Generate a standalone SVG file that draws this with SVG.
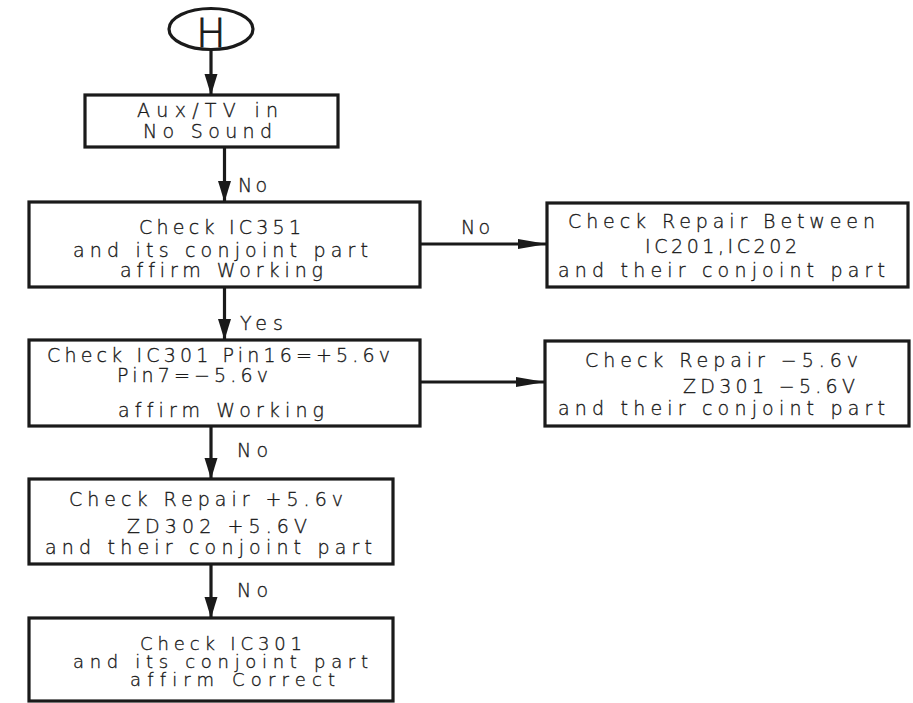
<svg xmlns="http://www.w3.org/2000/svg" width="913" height="703" viewBox="0 0 913 703">
<style>
.box{fill:#fff;stroke:#1a1a1a;stroke-width:3.2}
.ln{fill:none;stroke:#1a1a1a;stroke-width:3.2}
.t{font-family:"DejaVu Sans","Liberation Sans",Arial,sans-serif;font-size:19px;font-weight:200;fill:#1a1a1a;stroke:#1a1a1a;stroke-width:0.35;font-variant-ligatures:none;font-feature-settings:"liga" 0}
.s{font-size:18px}
.h{font-family:"DejaVu Sans","Liberation Sans",Arial,sans-serif;font-size:39px;font-weight:200;fill:#1a1a1a;stroke:#1a1a1a;stroke-width:0.9}
</style>
<defs>
<marker id="av" markerUnits="userSpaceOnUse" markerWidth="22" markerHeight="14" refX="21" refY="6.5" orient="auto"><path d="M0,0 L21,6.5 L0,13 z" fill="#1a1a1a"/></marker>
<marker id="ah" markerUnits="userSpaceOnUse" markerWidth="30" markerHeight="12" refX="29" refY="5" orient="auto"><path d="M0,0 L29,5 L0,10 z" fill="#1a1a1a"/></marker>
</defs>
<rect width="913" height="703" fill="#fff"/>
<g id="connectors">
<path class="ln" d="M211,50 V95" marker-end="url(#av)"/>
<path class="ln" d="M224.5,147 V202" marker-end="url(#av)"/>
<path class="ln" d="M420,244 H547" marker-end="url(#ah)"/>
<path class="ln" d="M224.5,287 V340" marker-end="url(#av)"/>
<path class="ln" d="M420,382 H545" marker-end="url(#ah)"/>
<path class="ln" d="M211,426 V479" marker-end="url(#av)"/>
<path class="ln" d="M211,564 V618" marker-end="url(#av)"/>
<text class="t" x="238" y="192" textLength="29" lengthAdjust="spacing">No</text>
<text class="t" x="461" y="234" textLength="29" lengthAdjust="spacing">No</text>
<text class="t" x="240" y="330" textLength="43" lengthAdjust="spacing">Yes</text>
<text class="t" x="237" y="457" textLength="31" lengthAdjust="spacing">No</text>
<text class="t" x="237" y="597" textLength="31" lengthAdjust="spacing">No</text>
</g>
<g id="start">
<ellipse cx="211" cy="29" rx="42" ry="20.5" fill="#fff" stroke="#1a1a1a" stroke-width="3.2"/>
<text class="h" x="211" y="47" text-anchor="middle">H</text>
</g>
<g id="aux">
<rect class="box" x="85" y="95" width="253" height="52"/>
<text class="t" x="137" y="117" textLength="141" lengthAdjust="spacing">Aux/TV in</text>
<text class="t" x="143" y="138" textLength="129" lengthAdjust="spacing">No Sound</text>
</g>
<g id="ic351">
<rect class="box" x="29" y="202" width="391" height="85"/>
<text class="t" x="139" y="234" textLength="162" lengthAdjust="spacing">Check IC351</text>
<text class="t" x="73" y="257" textLength="295" lengthAdjust="spacing">and its conjoint part</text>
<text class="t" x="120" y="277" textLength="203" lengthAdjust="spacing">affirm Working</text>
</g>
<g id="ic201">
<rect class="box" x="547" y="203" width="361" height="84"/>
<text class="t" x="568" y="228" textLength="307" lengthAdjust="spacing">Check Repair Between</text>
<text class="t" x="645" y="253" textLength="152" lengthAdjust="spacing">IC201,IC202</text>
<text class="t" x="558" y="277" textLength="327" lengthAdjust="spacing">and their conjoint part</text>
</g>
<g id="ic301pins">
<rect class="box" x="29" y="340" width="391" height="86"/>
<text class="t" x="47" y="362" textLength="343" lengthAdjust="spacing">Check IC301 Pin16=+5.6v</text>
<text class="t" x="117" y="382" textLength="151" lengthAdjust="spacing">Pin7=−5.6v</text>
<text class="t" x="118" y="417" textLength="206" lengthAdjust="spacing">affirm Working</text>
</g>
<g id="zd301">
<rect class="box" x="545" y="341" width="364" height="85"/>
<text class="t" x="585" y="367" textLength="273" lengthAdjust="spacing">Check Repair −5.6v</text>
<text class="t" x="683" y="393" textLength="172" lengthAdjust="spacing">ZD301 −5.6V</text>
<text class="t" x="558" y="415" textLength="327" lengthAdjust="spacing">and their conjoint part</text>
</g>
<g id="zd302">
<rect class="box" x="29" y="479" width="364" height="85"/>
<text class="t" x="69" y="506" textLength="274" lengthAdjust="spacing">Check Repair +5.6v</text>
<text class="t" x="127" y="533" textLength="180" lengthAdjust="spacing">ZD302 +5.6V</text>
<text class="t" x="45" y="554" textLength="327" lengthAdjust="spacing">and their conjoint part</text>
</g>
<g id="ic301">
<rect class="box" x="29" y="618" width="364" height="83"/>
<text class="t s" x="140" y="650" textLength="162" lengthAdjust="spacing">Check IC301</text>
<text class="t s" x="73" y="668" textLength="295" lengthAdjust="spacing">and its conjoint part</text>
<text class="t s" x="130" y="686" textLength="205" lengthAdjust="spacing">affirm Correct</text>
</g>
</svg>
